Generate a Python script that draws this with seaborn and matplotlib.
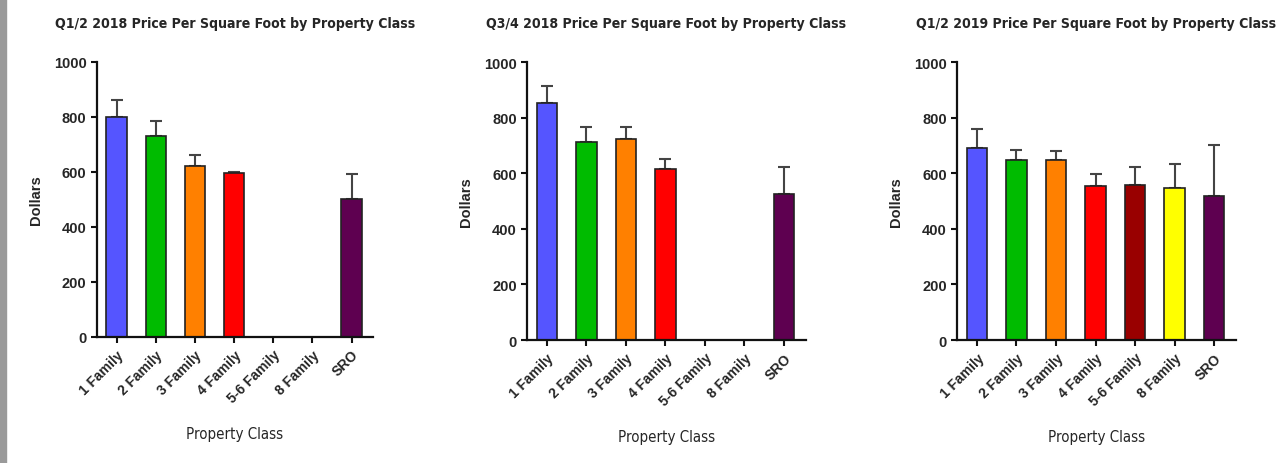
import numpy as np
import pandas as pd
import matplotlib
matplotlib.use("Agg")
import matplotlib.pyplot as plt
import seaborn as sns
from matplotlib.patches import Rectangle

# data (NaN = no bar)
classes = ["1 Family", "2 Family", "3 Family", "4 Family", "5-6 Family", "8 Family", "SRO"]
colors = ["#5555FF", "#00BB00", "#FF8000", "#FF0000", "#990000", "#FFFF00", "#5E0050"]

titles = [
    "Q1/2 2018 Price Per Square Foot by Property Class",
    "Q3/4 2018 Price Per Square Foot by Property Class",
    "Q1/2 2019 Price Per Square Foot by Property Class",
]
price_q12_2018 = [800, 730, 622, 597, np.nan, np.nan, 500]
err_q12_2018 = [61, 55, 40, 3, np.nan, np.nan, 91]
price_q34_2018 = [852, 713, 722, 616, np.nan, np.nan, 525]
err_q34_2018 = [62, 53, 44, 34, np.nan, np.nan, 97]
price_q12_2019 = [691, 649, 647, 553, 558, 547, 520]
err_q12_2019 = [70, 35, 32, 45, 65, 87, 182]

prices = [price_q12_2018, price_q34_2018, price_q12_2019]
errors = [err_q12_2018, err_q34_2018, err_q12_2019]

sns.set_style("ticks")
plt.rcParams["font.family"] = ["Liberation Sans", "DejaVu Sans"]

fig = plt.figure(figsize=(12.78, 4.64), dpi=100)
fig.patches.append(Rectangle((0, 0), 0.005, 1, transform=fig.transFigure,
                             color="#9a9a9a", zorder=0))

boxes = [
    [0.0759, 0.2716, 0.216, 0.593],
    [0.4124, 0.265, 0.218, 0.599],
    [0.749, 0.265, 0.218, 0.599],
]
cond = ["DejaVu Sans"]

for box, title, vals, errs in zip(boxes, titles, prices, errors):
    ax = fig.add_axes(box)
    df = pd.DataFrame({"cls": classes, "price": vals})
    sns.barplot(data=df, x="cls", y="price", hue="cls", palette=colors,
                order=classes, hue_order=classes, legend=False, width=0.52,
                saturation=1, edgecolor="#222222", linewidth=1.2, ax=ax, zorder=2)
    pos = np.arange(len(classes))
    e = np.array(errs)
    ax.errorbar(pos, vals, yerr=[np.zeros_like(e), e], fmt="none",
                ecolor="#444444", elinewidth=1.5, capsize=4, capthick=1.5, zorder=1)
    ax.set_xlim(-0.5, 6.55)
    ax.set_ylim(0, 1000)
    ax.set_yticks([0, 200, 400, 600, 800, 1000])
    sns.despine(ax=ax)
    for s in ["left", "bottom"]:
        ax.spines[s].set_linewidth(1.6)
        ax.spines[s].set_color("#111111")
    ax.tick_params(axis="both", width=1.5, length=4, color="#111111")
    ax.set_xticks(pos)
    ax.set_xticklabels(classes, rotation=45, ha="right", rotation_mode="anchor",
                       fontsize=10, fontweight="bold")
    for lab in ax.get_yticklabels():
        lab.set_fontsize(10.5)
        lab.set_fontweight("bold")
    ax.set_ylabel("Dollars", fontsize=10.5, fontweight="bold", labelpad=8)
    ax.set_xlabel("Property Class", fontsize=10.8, family=cond, fontstretch="condensed",
                  labelpad=15)
    ax.set_title(title, fontsize=10.1, fontweight="bold", family=cond,
                 fontstretch="condensed", pad=25)

fig.savefig("out.png", dpi=100, facecolor="white")
